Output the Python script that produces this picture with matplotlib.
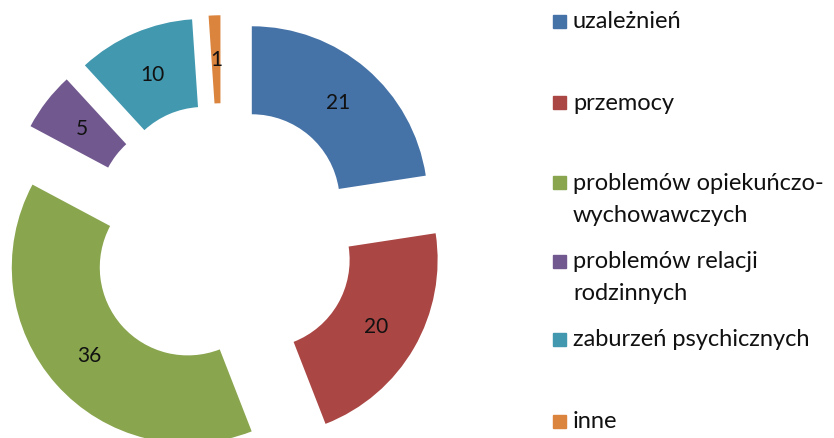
import matplotlib
matplotlib.use('Agg')
import matplotlib.pyplot as plt
from matplotlib.patches import Rectangle

categories = ['uzależnień', 'przemocy', 'problemów opiekuńczo-\nwychowawczych',
              'problemów relacji\nrodzinnych', 'zaburzeń psychicznych', 'inne']
values = [21, 20, 36, 5, 10, 1]
colors = ['#4572A7', '#AA4643', '#89A54E', '#71588F', '#4198AF', '#DB843D']

W, H = 834, 439
fig = plt.figure(figsize=(W / 100, H / 100), dpi=100)
ax = fig.add_axes([0, 0, 1, 1])

# pie centre and outer radius in pixels
R = 176.0
cx, cy = 222, 238

total = sum(values)
wedges, texts, autotexts = ax.pie(
    values, colors=colors, startangle=90, counterclock=False, radius=1,
    explode=[0.26] * len(values), wedgeprops=dict(width=0.5, linewidth=0),
    autopct=lambda p: '%d' % round(p * total / 100), pctdistance=0.75,
    textprops=dict(fontsize=15, color='#111111', family='Lato'))
ax.set_aspect('auto')
ax.set_xlim(-cx / R, (W - cx) / R)
ax.set_ylim(-(H - cy) / R, cy / R)
ax.axis('off')

# legend drawn by hand so multi-line entries align like the original
legend_y = [22, 103, 183, 262, 340, 422]
line_gap = 32
for lab, col, y in zip(categories, colors, legend_y):
    fig.patches.append(Rectangle((553 / W, 1 - (y + 6.5) / H), 13 / W, 13 / H,
                                 transform=fig.transFigure, color=col))
    for k, line in enumerate(lab.split('\n')):
        fig.text(573 / W, 1 - (y + k * line_gap) / H, line, fontsize=17,
                 family='Lato', color='#111111', va='center', ha='left')

fig.savefig('out.png', dpi=100)
